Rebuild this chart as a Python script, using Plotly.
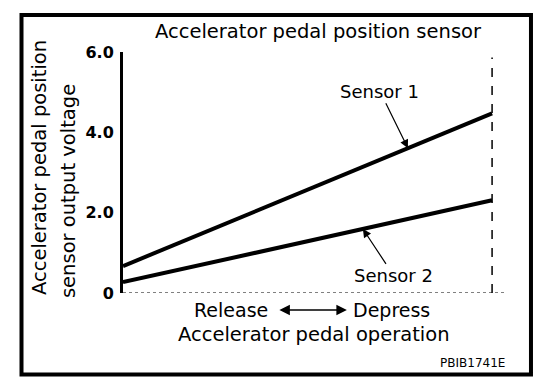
import numpy as np
import plotly.graph_objects as go

# ---- data ----
pedal_pos = [0, 100]                 # % pedal travel (Release -> Depress)
sensor1_v = [0.67, 4.47]             # V
sensor2_v = [0.27, 2.31]             # V
y_tickvals = [0, 2, 4, 6]
y_ticktext = ["0", "2.0", "4.0", "6.0"]

FONT = "DejaVu Sans"
fig = go.Figure()
for yv in (sensor1_v, sensor2_v):
    fig.add_trace(go.Scatter(x=pedal_pos, y=yv, mode="lines",
                             line=dict(color="black", width=4),
                             showlegend=False, hoverinfo="skip"))

xmax = pedal_pos[-1] * 1.035
# x axis (dotted) and dashed full-depress line
fig.add_shape(type="line", x0=pedal_pos[0], x1=xmax, y0=0, y1=0,
              line=dict(color="black", width=1, dash="dot"))
fig.add_shape(type="line", x0=pedal_pos[-1], x1=pedal_pos[-1], y0=0, y1=5.86,
              line=dict(color="black", width=1.5, dash="dash"))
# outer frame
fig.add_shape(type="rect", xref="paper", yref="paper",
              x0=-0.2657, x1=1.068, y0=-0.338, y1=1.1535,
              line=dict(color="black", width=4))

def on_line(vals, xp):
    return float(np.interp(xp, pedal_pos, vals))

ann = []
ann.append(dict(x=77.2, y=on_line(sensor1_v, 77.2), xref="x", yref="y",
                text="Sensor 1", showarrow=True, ax=-28, ay=-57,
                arrowhead=2, arrowsize=1.4, arrowwidth=1.2, arrowcolor="black",
                font=dict(family=FONT, size=18, color="black")))
ann.append(dict(x=65.0, y=on_line(sensor2_v, 65.0), xref="x", yref="y",
                text="Sensor 2", showarrow=True, ax=31, ay=47,
                arrowhead=2, arrowsize=1.4, arrowwidth=1.2, arrowcolor="black",
                font=dict(family=FONT, size=18, color="black")))
txt = [
    ("Accelerator pedal position sensor", 0.513, 1.083, 19.5, 0),
    ("Accelerator pedal position", -0.217, 0.519, 19.5, -90),
    ("sensor output voltage", -0.144, 0.423, 19.5, -90),
    ("Release", 0.283, -0.0705, 19, 0),
    ("Depress", 0.702, -0.0705, 19, 0),
    ("Accelerator pedal operation", 0.5, -0.174, 19.5, 0),
    ("PBIB1741E", 0.916, -0.290, 12, 0),
]
for t, x, y, s, a in txt:
    ann.append(dict(text=t, x=x, y=y, xref="paper", yref="paper",
                    showarrow=False, textangle=a, xanchor="center", yanchor="middle",
                    font=dict(family=FONT, size=s, color="black")))
# double-headed arrow between Release and Depress
ann.append(dict(x=0.586, y=-0.0705, xref="paper", yref="paper", text="",
                showarrow=True, ax=-69, ay=0, arrowside="end+start",
                arrowhead=2, arrowsize=1.4, arrowwidth=1.5, arrowcolor="black"))

fig.update_layout(
    width=552, height=382,
    margin=dict(l=115, r=55, t=44, b=97),
    paper_bgcolor="white", plot_bgcolor="white",
    annotations=ann,
    xaxis=dict(range=[pedal_pos[0], xmax], showgrid=False, zeroline=False,
               showline=False, showticklabels=False, ticks=""),
    yaxis=dict(range=[0, 6], showgrid=False, zeroline=False,
               showline=True, linecolor="black", linewidth=3,
               tickvals=y_tickvals, ticktext=y_ticktext, ticks="",
               ticklabelstandoff=3,
               tickfont=dict(family=FONT, size=16, color="black", weight="bold")),
)
fig.write_html("out.html")
